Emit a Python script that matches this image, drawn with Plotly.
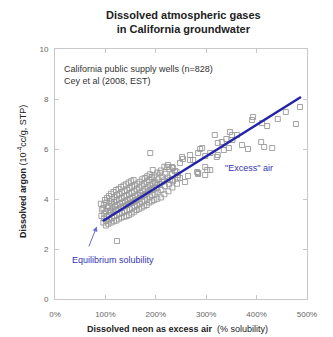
import plotly.graph_objects as go

# Data (neon as % solubility, argon in 1e-4 cc/g STP)
neon_pct = [
    92, 93, 91,
    96, 97, 98, 96, 97, 99,
    101, 102, 103, 101, 104, 102, 103,
    106, 108, 107, 109, 106, 108, 107,
    112, 113, 111, 114, 112, 113, 111,
    117, 118, 116, 119, 117, 118, 116,
    122, 123, 121, 124, 122, 123, 121,
    127, 128, 126, 129, 127, 128, 126,
    132, 133, 131, 134, 132, 133, 131,
    137, 138, 136, 139, 137, 138, 136,
    142, 143, 141, 144, 142, 143, 141,
    147, 148, 146, 149, 147, 148, 146,
    152, 153, 151, 154, 152, 153, 151,
    157, 158, 156, 159, 157, 158, 156,
    162, 163, 161, 164, 162, 163,
    167, 168, 166, 169, 167, 168,
    172, 173, 171, 174, 172, 173,
    177, 178, 176, 179, 177, 178,
    182, 183, 181, 184, 182, 183,
    187, 188, 186, 189, 187, 188,
    192, 193, 191, 194, 192,
    197, 198, 196, 199, 197,
    203, 204, 202, 205, 203,
    210, 211, 209, 212, 210,
    217, 218, 216, 219, 217,
    225, 226, 224, 227,
    233, 234, 232,
    242, 243, 241,
    189, 123,
    486, 458, 478, 442, 391, 393, 411, 421,
    371, 383, 409, 415, 431, 361,
    347, 351, 317, 323, 331, 340, 352, 345, 335, 321, 323, 288, 298, 308,
    252, 254, 268, 274,
    222, 224, 234, 238,
    282, 284, 302, 298, 264,
    244, 248, 232, 212, 198, 202, 192,
    208, 194, 192,
    292, 284, 248, 268, 232, 298, 308, 284, 258, 228,
]
argon = [
    3.32, 3.58, 3.81,
    3.06, 3.22, 3.41, 3.63, 3.77, 3.96,
    2.94, 3.12, 3.28, 3.52, 3.66, 3.86, 4.04,
    3.01, 3.17, 3.36, 3.54, 3.72, 3.91, 4.12,
    3.06, 3.24, 3.46, 3.61, 3.82, 3.99, 4.21,
    3.11, 3.31, 3.49, 3.71, 3.88, 4.07, 4.28,
    3.14, 3.36, 3.56, 3.74, 3.96, 4.14, 4.36,
    3.21, 3.41, 3.59, 3.81, 4.01, 4.19, 4.41,
    3.26, 3.44, 3.66, 3.86, 4.04, 4.26, 4.48,
    3.29, 3.51, 3.71, 3.89, 4.11, 4.31, 4.54,
    3.31, 3.56, 3.74, 3.96, 4.14, 4.36, 4.59,
    3.36, 3.59, 3.81, 4.01, 4.21, 4.44, 4.66,
    3.42, 3.64, 3.86, 4.04, 4.26, 4.49, 4.71,
    3.49, 3.71, 3.89, 4.11, 4.31, 4.54, 4.76,
    3.56, 3.74, 3.96, 4.16, 4.39, 4.61,
    3.61, 3.81, 4.01, 4.24, 4.46, 4.69,
    3.66, 3.89, 4.11, 4.31, 4.54, 4.79,
    3.71, 3.94, 4.16, 4.39, 4.61, 4.84,
    3.76, 3.99, 4.21, 4.46, 4.69, 4.91,
    3.86, 4.09, 4.31, 4.54, 4.76, 4.99,
    3.91, 4.16, 4.39, 4.61, 4.86,
    3.96, 4.21, 4.44, 4.69, 4.94,
    4.01, 4.29, 4.56, 4.79, 5.06,
    4.06, 4.36, 4.61, 4.89, 5.14,
    4.19, 4.51, 4.74, 5.01, 5.29,
    4.31, 4.59, 4.86, 5.19,
    4.46, 4.71, 4.99,
    4.61, 4.86, 5.09,
    5.84, 2.32,
    7.68, 7.48, 7.00, 7.20, 7.16, 7.28, 7.04, 6.92,
    6.16, 6.00, 6.28, 6.08, 6.04, 6.56,
    6.68, 6.56, 6.56, 6.24, 6.28, 6.40, 6.36, 6.04, 5.96, 5.68, 5.76, 6.00, 5.72, 5.84,
    5.68, 5.60, 5.76, 5.56,
    5.28, 5.36, 5.24, 5.12,
    5.08, 5.00, 5.16, 4.96, 4.92,
    4.96, 4.84, 4.76, 4.68, 4.64, 4.44, 4.36,
    5.04, 5.16, 4.88,
    6.04, 5.84, 5.44, 5.56, 5.28, 5.28, 5.16, 5.04, 4.68, 4.76,
]

fit_neon = [95, 488]
fit_argon = [3.12, 8.08]

x_ticks = [0, 100, 200, 300, 400, 500]
x_tick_labels = ["0%", "100%", "200%", "300%", "400%", "500%"]
y_ticks = [0, 2, 4, 6, 8, 10]

FONT = "Liberation Sans, Arial, sans-serif"
BLUE = "#3535b5"
LINE_BLUE = "#2424a8"

fig = go.Figure()
fig.add_trace(go.Scatter(
    x=neon_pct, y=argon, mode="markers",
    marker=dict(symbol="square-open", size=5, color="#9a9a9a", line=dict(width=0.9)),
    showlegend=False, hoverinfo="skip"))
fig.add_trace(go.Scatter(
    x=fit_neon, y=fit_argon, mode="lines",
    line=dict(color=LINE_BLUE, width=2.5), showlegend=False, hoverinfo="skip"))

axis_common = dict(
    showgrid=False, zeroline=False, showline=True, linecolor="#c8c8c8", linewidth=1,
    mirror="ticks", ticks="inside", ticklen=4, tickcolor="#c8c8c8",
    tickfont=dict(family=FONT, size=8, color="#666666"),
)
fig.update_xaxes(range=[0, 500], tickmode="array", tickvals=x_ticks, ticktext=x_tick_labels,
                 ticklabelstandoff=7, **axis_common)
fig.update_yaxes(range=[0, 10], tickmode="array", tickvals=y_ticks, ticklabelstandoff=4, **axis_common)

annos = [
    dict(text="<b>Dissolved atmospheric gases<br>in California groundwater</b>",
         xref="paper", yref="paper", x=0.508, y=1.108, xanchor="center", yanchor="middle",
         showarrow=False, font=dict(family=FONT, size=11, color="#222222")),
    dict(text="California public supply wells (n=828)", xref="x", yref="y", x=14, y=9.2,
         xanchor="left", yanchor="middle", showarrow=False, font=dict(family=FONT, size=9, color="#333333")),
    dict(text="Cey et al (2008, EST)", xref="x", yref="y", x=14, y=8.74,
         xanchor="left", yanchor="middle", showarrow=False, font=dict(family=FONT, size=9, color="#333333")),
    dict(text="\"Excess\" air", xref="x", yref="y", x=333, y=5.24,
         xanchor="left", yanchor="middle", showarrow=False, font=dict(family=FONT, size=9, color=BLUE)),
    dict(text="Equilibrium solubility", xref="x", yref="y", x=29, y=1.56,
         xanchor="left", yanchor="middle", showarrow=False, font=dict(family=FONT, size=9, color=BLUE)),
    dict(text="", xref="x", yref="y", x=83, y=2.9, axref="x", ayref="y", ax=66, ay=2.04,
         showarrow=True, arrowhead=2, arrowsize=1, arrowwidth=1, arrowcolor="#6a6ad0"),
    dict(text="<b>Dissolved neon as excess air</b>  (% solubility)", xref="paper", yref="paper",
         x=0.488, y=-0.12, xanchor="center", yanchor="middle", showarrow=False,
         font=dict(family=FONT, size=9, color="#222222")),
    dict(text="<b>Dissolved argon</b> (10<sup>-4</sup>cc/g, STP)", xref="paper", yref="paper",
         x=-0.131, y=0.512, xanchor="center", yanchor="middle", textangle=-90, showarrow=False,
         font=dict(family=FONT, size=9, color="#222222")),
]

fig.update_layout(
    width=333, height=337,
    margin=dict(l=55, r=26, t=49, b=38),
    paper_bgcolor="white", plot_bgcolor="white",
    annotations=annos,
)

fig.write_html("out.html")
